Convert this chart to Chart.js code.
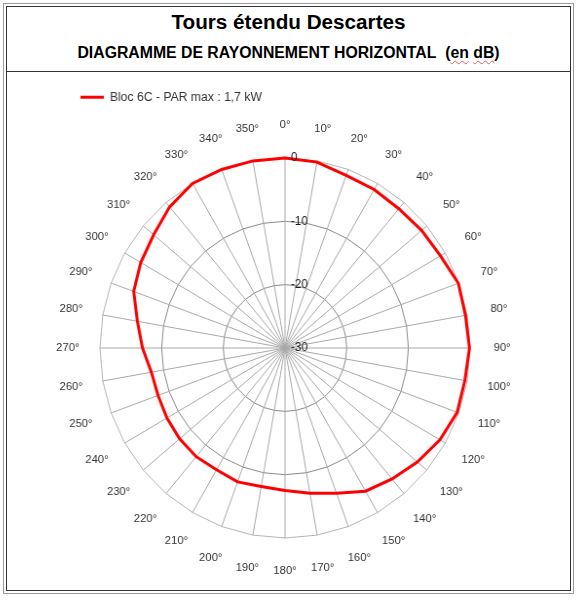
<!DOCTYPE html>
<html>
<head>
<meta charset="utf-8">
<script src="https://cdn.jsdelivr.net/npm/chart.js@4.4.0/dist/chart.umd.min.js"></script>
<style>
  html, body { margin: 0; padding: 0; background: #fff; }
  body { width: 577px; height: 600px; position: relative; overflow: hidden; font-family: 'Liberation Sans', Arial, sans-serif; }
  .frame { position: absolute; left: 3px; top: 3px; width: 569px; height: 589px; border: 1px solid #9a9a9a; }
  .inner { position: absolute; left: 2px; top: 2px; right: 2px; bottom: 2px; border: 1px solid #333; }
  .head { position: absolute; left: 0; top: 0; right: 0; height: 64px; border-bottom: 1px solid #333; text-align: center; color: #000; }
  .t1 { position: absolute; left: 0; right: 0; top: 3px; font-size: 20.7px; line-height: 24px; font-weight: bold; }
  .t2 { position: absolute; left: 0; right: 0; top: 37px; font-size: 15.8px; line-height: 18px; font-weight: bold; }
  .t2 span { text-decoration: underline wavy #e06060; text-decoration-thickness: 1px; text-underline-offset: 2px; }
  /* the original plot is a little narrower than tall */
  .chart-box { position: absolute; left: 7px; top: 71px; width: 563px; height: 519px; transform: scaleX(0.974); transform-origin: 278px 0; }
</style>
</head>
<body>
<div class="frame"><div class="inner"><div class="head">
  <div class="t1">Tours étendu Descartes</div>
  <div class="t2">DIAGRAMME DE RAYONNEMENT HORIZONTAL&nbsp;&nbsp;(<span>en</span> <span>dB</span>)</div>
</div></div></div>
<div class="chart-box"><canvas id="chart-rayonnement"></canvas></div>

<script>
// azimuths, clockwise from north
const angleLabels = ['0°', '10°', '20°', '30°', '40°', '50°', '60°', '70°', '80°', '90°',
  '100°', '110°', '120°', '130°', '140°', '150°', '160°', '170°', '180°', '190°',
  '200°', '210°', '220°', '230°', '240°', '250°', '260°', '270°', '280°', '290°',
  '300°', '310°', '320°', '330°', '340°', '350°'];

// relative level (dB)
const levelDb = [0, -0.2, -1.0, -1.1, -1.3, -1.1, -0.9, -0.1, -0.3, -0.1,
  -0.4, -0.3, -1.0, -2.0, -3.0, -3.9, -5.6, -6.7, -7.5, -7.8,
  -7.5, -7.8, -7.6, -7.7, -7.9, -8.1, -8.0, -6.9, -5.7, -3.9,
  -3.0, -2.2, -0.9, 0, 0, 0];

const seriesName = 'Bloc 6C - PAR max : 1,7 kW';
const dbMin = -30, dbMax = 0, dbStep = 10;

const FONT = "'Liberation Sans', Arial, sans-serif";

// dB ticks sit to the right of the north spoke, angle labels centred on their spoke
const labelsPlugin = {
  id: 'polarLabels',
  afterDraw(chart) {
    const scale = chart.scales.r;
    const ctx = chart.ctx;
    ctx.save();
    ctx.textBaseline = 'middle';

    ctx.font = '12px ' + FONT;
    ctx.fillStyle = '#1a1a1a';
    ctx.textAlign = 'left';
    scale.ticks.forEach(t => {
      const d = scale.getDistanceFromCenterForValue(t.value);
      ctx.fillText(t.label, scale.xCenter + 6, scale.yCenter - d);
    });

    ctx.font = '11.5px ' + FONT;
    ctx.fillStyle = '#333';
    ctx.textAlign = 'center';
    chart.data.labels.forEach((lbl, i) => {
      const p = scale.getPointPosition(i, scale.drawingArea + 33);
      ctx.fillText(lbl, p.x, p.y);
    });
    ctx.restore();
  }
};

const ctx = document.getElementById('chart-rayonnement');
new Chart(ctx, {
  type: 'radar',
  data: {
    labels: angleLabels,
    datasets: [{
      label: seriesName,
      data: levelDb,
      borderColor: '#ff0000',
      backgroundColor: '#ff0000',
      borderWidth: 3,
      pointRadius: 0,
      pointHoverRadius: 0,
      fill: false,
      tension: 0,
    }]
  },
  options: {
    responsive: true,
    maintainAspectRatio: false,
    animation: false,
    layout: { padding: { left: 48, right: 55, top: 0, bottom: 52 } },
    plugins: {
      legend: {
        position: 'top',
        align: 'start',
        labels: {
          usePointStyle: true,
          pointStyle: 'line',
          pointStyleWidth: 24,
          padding: 20,
          color: '#333',
          font: { family: FONT, size: 12.5 },
        }
      },
      // empty subtitle used as a gap between legend and plot
      subtitle: {
        display: true,
        text: ' ',
        position: 'top',
        weight: 500,
        font: { size: 10, lineHeight: 1 },
        padding: { top: 17, bottom: 17.5 },
      },
      tooltip: { enabled: false },
    },
    scales: {
      r: {
        min: dbMin,
        max: dbMax,
        startAngle: 0,
        ticks: { stepSize: dbStep, display: false },
        grid: {
          color: c => c.index === 3 ? '#b4b4b4' : '#8a8a8a',
          lineWidth: 1,
        },
        angleLines: { color: '#a8a8a8', lineWidth: 1 },
        pointLabels: { display: false },
      }
    }
  },
  plugins: [labelsPlugin],
});
</script>
</body>
</html>
